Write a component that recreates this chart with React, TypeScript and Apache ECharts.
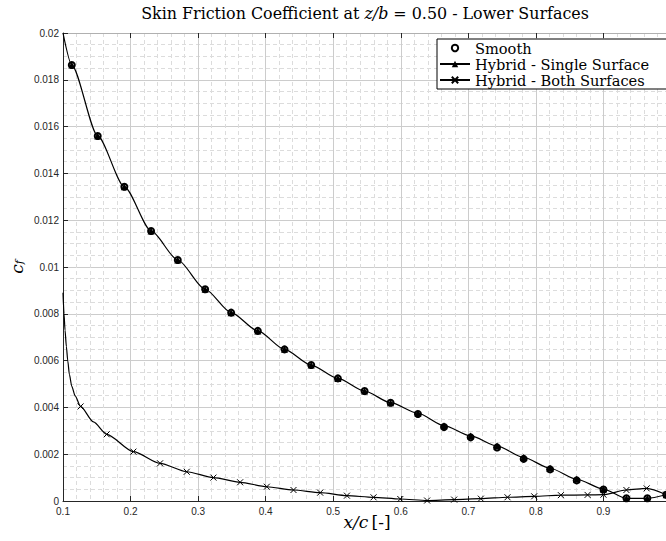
import React, { useEffect, useRef } from 'react';
import * as echarts from 'echarts';

// ---- data ----
const singleLeadX = [0.1];
const singleLeadY = [0.02];
const singleMarkX = [0.113, 0.1514, 0.1908, 0.2304, 0.2699, 0.3104, 0.3489, 0.3884, 0.4279, 0.4674, 0.5069, 0.5464, 0.5849, 0.6254, 0.664, 0.7034, 0.7425, 0.7819, 0.821, 0.8604, 0.9, 0.934, 0.965, 0.993];
const singleMarkY = [0.01863, 0.0156, 0.01343, 0.01154, 0.0103, 0.00905, 0.00805, 0.00727, 0.00648, 0.00581, 0.00524, 0.0047, 0.0042, 0.00375, 0.00322, 0.00278, 0.00235, 0.00186, 0.0014, 0.00093, 0.00051, 0.000115, 0.000115, 0.00027];

const smoothX = [0.113, 0.1514, 0.1908, 0.2304, 0.2699, 0.3104, 0.3489, 0.3884, 0.4279, 0.4674, 0.5069, 0.5464, 0.5849, 0.6254, 0.664, 0.7034, 0.7425, 0.7819, 0.821, 0.8604, 0.9, 0.934, 0.965, 0.993];
const smoothY = [0.01863, 0.0156, 0.01343, 0.01154, 0.0103, 0.00905, 0.00805, 0.00727, 0.00648, 0.00581, 0.00524, 0.0047, 0.0042, 0.00372, 0.00316, 0.00272, 0.00229, 0.0018, 0.00135, 0.00088, 0.00049, 0.000115, 0.000115, 0.00027];

const bothLeadX = [0.1, 0.1015, 0.103, 0.105, 0.107, 0.1095, 0.113, 0.118];
const bothLeadY = [0.0089, 0.008, 0.0073, 0.0066, 0.006, 0.0054, 0.0049, 0.00449];
const bothMarkX = [0.126, 0.1647, 0.2042, 0.2437, 0.2832, 0.3227, 0.3622, 0.4017, 0.4412, 0.4807, 0.5203, 0.5597, 0.5993, 0.639, 0.679, 0.7185, 0.758, 0.7975, 0.837, 0.8765, 0.9, 0.934, 0.964, 0.993];
const bothMarkY = [0.00404, 0.00285, 0.00211, 0.00161, 0.00125, 0.001, 0.0008, 0.00061, 0.00047, 0.000356, 0.000228, 0.000157, 0.000085, 0.00002, 0.00006, 0.0001, 0.00016, 0.0002, 0.00025, 0.00026, 0.00027, 0.00047, 0.00054, 0.00027];
// unmarked points of the same curve between markers
const bothMidX = [0.145];
const bothMidY = [0.00338];

const seriesNames = ['Smooth', 'Hybrid - Single Surface', 'Hybrid - Both Surfaces'];
const titleParts = ['Skin Friction Coefficient at ', 'z/b', ' = 0.50 - Lower Surfaces'];

const SERIF = "'DejaVu Serif', 'Liberation Serif', serif";
const SANS = "'Liberation Sans', Arial, sans-serif";
const CROSS = 'path://M0,0L10,10M10,0L0,10';

type Pt = { value: number[]; symbol?: string };
function build(lx: number[], ly: number[], mx: number[], my: number[], ix: number[] = [], iy: number[] = []) {
  const pts: Pt[] = [
    ...lx.map((x, i) => ({ value: [x, ly[i]], symbol: 'none' })),
    ...ix.map((x, i) => ({ value: [x, iy[i]], symbol: 'none' })),
    ...mx.map((x, i) => ({ value: [x, my[i]] })),
  ];
  return pts.sort((a, b) => a.value[0] - b.value[0]);
}

const fmtY = (v: number) => (v === 0 ? '0' : String(parseFloat(v.toFixed(4))));
const fmtX = (v: number) => String(parseFloat(v.toFixed(2)));

export default function App() {
  const ref = useRef<HTMLDivElement>(null);
  useEffect(() => {
    if (!ref.current) return;
    const chart = echarts.init(ref.current, undefined, { renderer: 'svg' });
    const axisColor = '#262626';
    const option: any = {
      animation: false,
      backgroundColor: '#fff',
      grid: { left: 63, top: 33, width: 608, height: 468, containLabel: false, outerBoundsMode: 'none' },
      graphic: [
        {
          type: 'text',
          x: 365,
          y: 13,
          z: 10,
          style: {
            text: `{a|${titleParts[0]}}{i|${titleParts[1]}}{a|${titleParts[2]}}`,
            align: 'center',
            verticalAlign: 'middle',
            textAlign: 'center',
            textVerticalAlign: 'middle',
            rich: {
              a: { fontFamily: SERIF, fontSize: 15.9, fill: '#000', color: '#000' },
              i: { fontFamily: SERIF, fontSize: 15.9, fontStyle: 'italic', fill: '#000', color: '#000' },
            },
          },
        },
      ],
      legend: {
        orient: 'vertical',
        left: 437,
        top: 39,
        backgroundColor: '#fff',
        borderColor: '#000',
        borderWidth: 1,
        borderRadius: 0,
        padding: [1, 24, 1, 2],
        itemGap: 0,
        itemWidth: 30,
        itemHeight: 8,
        data: seriesNames,
        textStyle: { fontFamily: SERIF, fontSize: 14.6, color: '#000', lineHeight: 16 },
        z: 20,
      },
      xAxis: [
        {
          type: 'value',
          min: 0.1,
          max: 1.0,
          interval: 0.1,
          position: 'bottom',
          name: '{i|x/c} {n|[-]}',
          nameLocation: 'middle',
          nameGap: 12,
          nameMoveOverlap: false,
          nameTextStyle: {
            rich: {
              i: { fontFamily: SERIF, fontSize: 17, fontStyle: 'italic', color: '#000' },
              n: { fontFamily: SERIF, fontSize: 17, color: '#000' },
            },
          },
          axisLine: { show: true, lineStyle: { color: axisColor, width: 1 } },
          axisTick: { show: true, inside: true, length: 5, lineStyle: { color: axisColor } },
          axisLabel: { formatter: fmtX, fontFamily: SANS, fontSize: 10, color: axisColor, margin: 5, showMaxLabel: false },
          splitLine: { show: true, lineStyle: { color: '#cccccc', width: 1 } },
          minorTick: { show: false, splitNumber: 5 },
          minorSplitLine: { show: true, lineStyle: { color: '#dcdcdc', width: 1, type: [4, 3] } },
        },
        {
          type: 'value',
          min: 0.1,
          max: 1.0,
          interval: 0.1,
          position: 'top',
          axisLine: { show: true, lineStyle: { color: '#b0b0b0', width: 1 } },
          axisTick: { show: true, inside: true, length: 5, lineStyle: { color: axisColor } },
          axisLabel: { show: false },
          splitLine: { show: false },
        },
      ],
      yAxis: {
        type: 'value',
        min: 0,
        max: 0.02,
        interval: 0.002,
        name: '{i|c}{s|f}',
        nameLocation: 'middle',
        nameGap: 38,
        nameMoveOverlap: false,
        nameTextStyle: {
          rich: {
            i: { fontFamily: SERIF, fontSize: 17, fontStyle: 'italic', color: '#000' },
            s: { fontFamily: SERIF, fontSize: 11, fontStyle: 'italic', color: '#000', verticalAlign: 'bottom', padding: [6, 0, 0, 0] },
          },
        },
        axisLine: { show: true, lineStyle: { color: axisColor, width: 1 } },
        axisTick: { show: true, inside: true, length: 5, lineStyle: { color: axisColor } },
        axisLabel: { formatter: fmtY, fontFamily: SANS, fontSize: 10, color: axisColor, margin: 4 },
        splitLine: { show: true, lineStyle: { color: '#cccccc', width: 1 } },
        minorTick: { show: false, splitNumber: 4 },
        minorSplitLine: { show: true, lineStyle: { color: '#dcdcdc', width: 1, type: [4, 3] } },
      },
      series: [
        {
          name: seriesNames[0],
          type: 'line',
          data: smoothX.map((x, i) => [x, smoothY[i]]),
          symbol: 'emptyCircle',
          symbolSize: 6,
          lineStyle: { width: 0, color: '#000' },
          itemStyle: { color: '#000', borderColor: '#000', borderWidth: 1 },
          z: 2,
        },
        {
          name: seriesNames[1],
          type: 'line',
          data: build(singleLeadX, singleLeadY, singleMarkX, singleMarkY),
          smooth: 0.25,
          smoothMonotone: 'x',
          symbol: 'triangle',
          symbolSize: 7,
          lineStyle: { width: 1.2, color: '#000' },
          itemStyle: { color: '#000' },
          z: 3,
        },
        {
          name: seriesNames[2],
          type: 'line',
          data: build(bothLeadX, bothLeadY, bothMarkX, bothMarkY, bothMidX, bothMidY),
          smooth: 0.25,
          smoothMonotone: 'x',
          symbol: CROSS,
          symbolSize: 6,
          lineStyle: { width: 1.2, color: '#000' },
          itemStyle: { color: '#000', borderColor: '#000', borderWidth: 1 },
          z: 4,
        },
      ],
    };
    chart.setOption(option);
    return () => chart.dispose();
  }, []);
  return (
    <div
      ref={ref}
      style={{ position: 'fixed', left: 0, top: 0, width: 666, height: 541, background: '#fff' }}
    />
  );
}
